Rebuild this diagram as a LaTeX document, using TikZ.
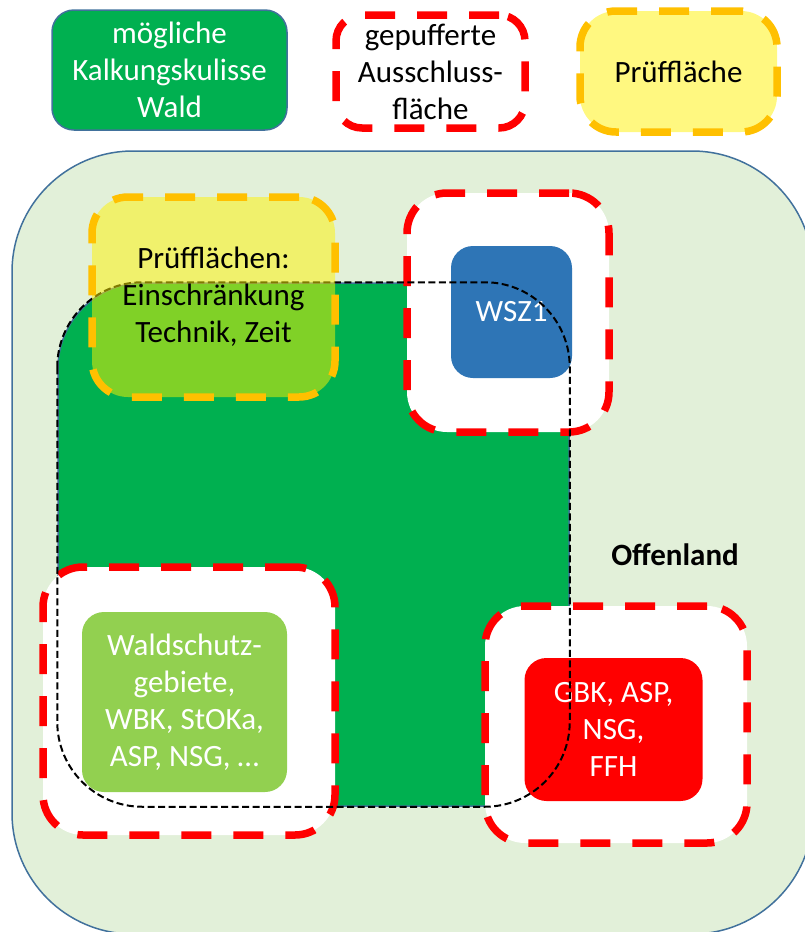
\documentclass[tikz,border=0pt]{standalone}
\usepackage{fontspec}
\setmainfont{Carlito}
\usetikzlibrary{positioning}
\definecolor{kulgreen}{RGB}{0,176,80}
\definecolor{offengreen}{RGB}{226,240,217}
\definecolor{randblue}{RGB}{65,113,156}
\definecolor{wszblue}{RGB}{46,117,182}
\definecolor{schutzgreen}{RGB}{146,208,80}
\definecolor{pruefgelb}{RGB}{255,192,0}

\begin{document}
\begin{tikzpicture}[x=1pt,y=-1pt,
  every node/.style={font=\fontsize{31}{37}\selectfont,align=center,inner sep=0pt},
  groesse/.style 2 args={minimum width=#1pt,minimum height=#2pt},
  feld/.style={rectangle,rounded corners=22pt,text=white},
  puffer/.style={rectangle,rounded corners=40pt,fill=white,draw=red,line width=7.5pt,dash pattern=on 30pt off 22pt},
  pruef/.style={rectangle,rounded corners=36pt,draw=pruefgelb,line width=7.5pt,dash pattern=on 30pt off 22pt}]
\useasboundingbox (0,0) rectangle (805,932);
\clip (0,0) rectangle (805,932);

% Legende
\node[feld,fill=kulgreen,draw=randblue,line width=1.5pt,groesse={235}{120}] (legKulisse) at (169.5,70) {mögliche\\Kalkungskulisse\\Wald};
\node[puffer,rounded corners=26pt,groesse={189}{113}] (legPuffer) at (430.5,71.5) {gepufferte\\Ausschluss-\\fläche};
\node[pruef,fill=yellow!50,groesse={197}{121}] (legPruef) at (678.5,71.5) {Prüffläche};

% Offenland und Kulisse
\node[rectangle,rounded corners=121pt,fill=offengreen,draw=randblue,line width=1.5pt,groesse={801}{783}] (offen) at (412.5,542.5) {};
\node[rectangle,rounded corners=85pt,fill=kulgreen,draw=randblue,line width=1.5pt,groesse={511}{523}] (kulisse) at (313.5,544.5) {};

% Ausschlussflaechen mit Puffer
\node[puffer,groesse={202}{239}] (pufWSZ) at (508,312.5) {};
\node[puffer,groesse={292}{268}] (pufSchutz) at (189,701) {};
\node[puffer,groesse={262}{237}] (pufOffen) at (616,724.5) {};
\node[feld,fill=wszblue,groesse={121}{132}] (wsz) at (511.5,312) {WSZ1};
\node[feld,fill=schutzgreen,groesse={205}{180}] (schutz) at (184.5,702) {Waldschutz-\\gebiete,\\WBK, StOKa,\\ASP, NSG, …};
\node[feld,fill=red,groesse={178}{143}] (gbk) at (613.5,729.5) {GBK, ASP,\\NSG,\\FFH};

% Rand der Kulisse
\draw[line width=2pt,dash pattern=on 7pt off 3.5pt,rounded corners=85pt] (kulisse.north west) rectangle (kulisse.south east);

% Pruefflaeche
\node[pruef,fill=yellow,fill opacity=.5,draw opacity=1,text opacity=1,groesse={243}{200}] (pruef) at (213.5,297) {Prüfflächen:\\Einschränkung\\Technik, Zeit};

\node[font=\fontsize{31}{37}\selectfont\bfseries] (offenText) at (675,555) {Offenland};
\end{tikzpicture}
\end{document}
